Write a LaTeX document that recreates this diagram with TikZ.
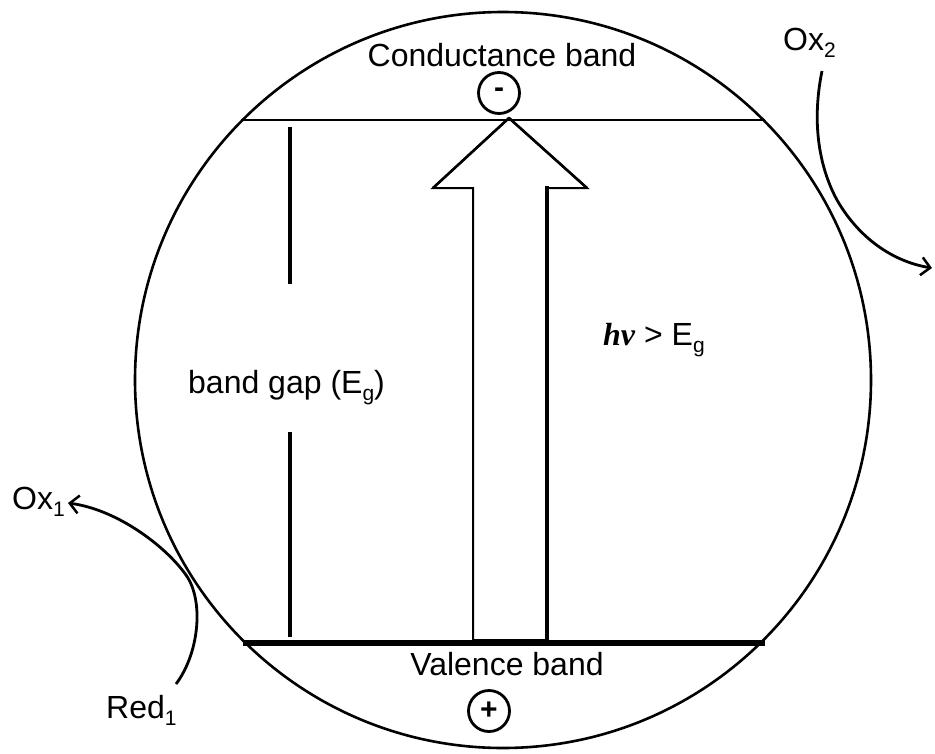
\documentclass[tikz,border=0pt]{standalone}
\usepackage{fontspec}
\setmainfont{Liberation Sans}
\newfontfamily\timesf{Liberation Serif}
\usetikzlibrary{arrows.meta}
\newcommand\mysub[1]{\raisebox{-0.22em}{\fontsize{21}{21}\selectfont #1}}
\begin{document}
\begin{tikzpicture}[x=1pt,y=-1pt,
  lbl/.style={inner sep=0pt, font=\fontsize{32}{38}\selectfont},
  sign/.style={circle, draw, line width=2.8pt, minimum size=41pt, inner sep=0pt, font=\fontsize{30}{30}\selectfont\bfseries},
  redox/.style={line width=2.8pt, -{Straight Barb[length=9pt,width=18pt,line width=2.5pt]}},
  bandline/.style={line width=#1},
  gapline/.style={line width=4pt}]
\fill[white] (0,0) rectangle (935,753);
\useasboundingbox (0,0) rectangle (935,753);
% particle
\coordinate (ctr) at (503,380);
\draw[line width=2.6pt] (ctr) circle[radius=368];
% bands
\draw[bandline=2pt] (241,120) -- (765,120);
\draw[bandline=5.5pt] (243,643) -- (765,643);
% band gap marker
\draw[gapline] (290,127) -- (290,284);
\draw[gapline] (290,432) -- (290,637);
% excitation arrow
\coordinate (tip) at (509,118);
\draw[line width=2pt, line join=miter] (tip) -- (587,188) -- (547,188) -- (547,640) -- (473,640) -- (473,188) -- (433,188) -- cycle;
\draw[line width=4.5pt] (547,186) -- (547,641);
\draw[line width=2.6pt] (tip) -- (587,188);
\draw[line width=2.6pt] (tip) -- (433,188);
% labels
\node[lbl, anchor=base] (cb) at (502,66) {Conductance band};
\node[lbl, anchor=base] (vb) at (507,675) {Valence band};
\node[sign] (minus) at (499,93) {-};
\node[sign] (plus) at (489,711) {+};
\node[lbl, anchor=base west] (ox2) at (783,50) {Ox\mysub{2}};
\node[lbl, anchor=base west] (ox1) at (12,509) {Ox\mysub{1}};
\node[lbl, anchor=base west] (red1) at (106,718) {Red\mysub{1}};
\node[lbl, anchor=base west] (bg) at (188,393) {band gap (E\mysub{g})};
\node[lbl, anchor=base west] (hv) at (603,345) {{\timesf\bfseries\itshape hv} > E\mysub{g}};
% redox arrows
\coordinate (r1s) at (176,684);
\coordinate (ox1t) at (68,503);
\draw[redox] (r1s) .. controls (198,655) and (204,605) .. (188,578) .. controls (170,550) and (120,510) .. (ox1t);
\coordinate (ox2s) at (822,71);
\coordinate (ox2t) at (932,268);
\draw[redox] (ox2s) .. controls (812,120) and (818,165) .. (837,200) .. controls (860,240) and (895,262) .. (ox2t);
\end{tikzpicture}
\end{document}
